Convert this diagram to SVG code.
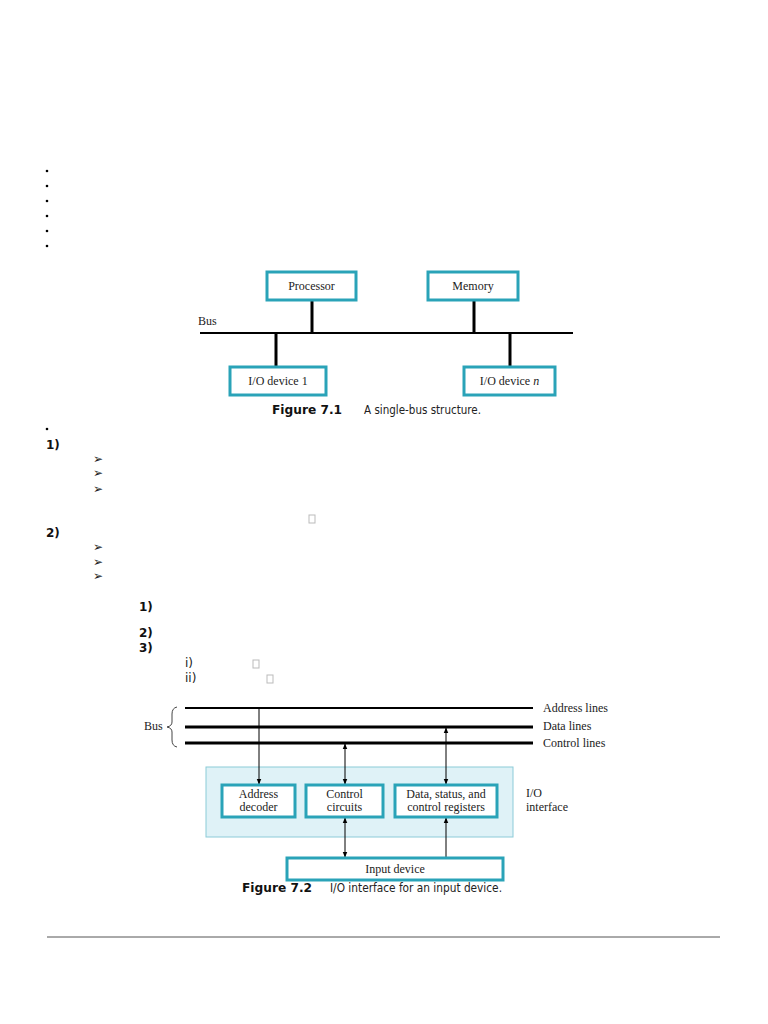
<svg xmlns="http://www.w3.org/2000/svg" width="768" height="1024" viewBox="0 0 768 1024">
<defs>
<style>
.s{font-family:"Liberation Serif",serif;font-size:12px;fill:#222}
.c{font-family:"DejaVu Sans",sans-serif;font-size:12px;fill:#222}
.b{font-family:"DejaVu Sans",sans-serif;font-size:12px;font-weight:bold;fill:#111}
.v{font-family:"DejaVu Sans",sans-serif;font-size:12px;fill:#222}
.box{fill:#fff;stroke:#2aa3b8;stroke-width:3}
.thick{stroke:#000;stroke-width:3}
.thin{stroke:#000;stroke-width:1}
.g{fill:none;stroke:#bbb;stroke-width:1}
</style>
<marker id="a" viewBox="0 0 10 10" refX="9" refY="5" markerWidth="6" markerHeight="7" orient="auto-start-reverse"><path d="M0,1 L10,5 L0,9 z" fill="#000"/></marker>
</defs>
<rect width="768" height="1024" fill="#fff"/>
<g fill="#000">
<circle cx="47" cy="171" r="1.3"/><circle cx="47" cy="186" r="1.3"/><circle cx="47" cy="201" r="1.3"/><circle cx="47" cy="216" r="1.3"/><circle cx="47" cy="231" r="1.3"/><circle cx="47" cy="246" r="1.3"/><circle cx="47" cy="429" r="1.3"/>
</g>
<text class="b" x="46" y="449">1)</text>
<text class="b" x="46" y="537">2)</text>
<text class="v" x="93" y="463">➢</text><text class="v" x="93" y="477">➢</text><text class="v" x="93" y="493">➢</text>
<text class="v" x="93" y="551">➢</text><text class="v" x="93" y="566">➢</text><text class="v" x="93" y="580">➢</text>
<text class="b" x="139" y="611">1)</text>
<text class="b" x="139" y="637">2)</text>
<text class="b" x="139" y="652">3)</text>
<text class="c" x="185" y="667">i)</text>
<text class="c" x="185" y="682">ii)</text>
<rect class="g" x="309" y="515" width="6" height="8"/>
<rect class="g" x="253" y="660" width="6" height="8"/>
<rect class="g" x="267" y="675" width="6" height="8"/>

<g id="connectors1">
<line class="thin" x1="200" y1="333" x2="573" y2="333" style="stroke-width:2"/>
<line class="thick" x1="312" y1="300" x2="312" y2="333"/>
<line class="thick" x1="474" y1="300" x2="474" y2="333"/>
<line class="thick" x1="276" y1="333" x2="276" y2="367"/>
<line class="thick" x1="510" y1="333" x2="510" y2="367"/>
</g>
<text class="s" x="198" y="325">Bus</text>
<g id="processor"><rect class="box" x="267" y="272" width="89" height="28"/><text class="s" x="311.5" y="290" text-anchor="middle">Processor</text></g>
<g id="memory"><rect class="box" x="428" y="272" width="90" height="28"/><text class="s" x="473" y="290" text-anchor="middle">Memory</text></g>
<g id="io1"><rect class="box" x="230" y="367" width="96" height="28"/><text class="s" x="278" y="385" text-anchor="middle">I/O device 1</text></g>
<g id="ion"><rect class="box" x="464" y="367" width="91" height="28"/><text class="s" x="509.5" y="385" text-anchor="middle">I/O device <tspan font-style="italic">n</tspan></text></g>
<text class="b" x="272" y="414" textLength="70" lengthAdjust="spacingAndGlyphs">Figure 7.1</text>
<text class="c" x="364" y="414" font-size="11" textLength="117" lengthAdjust="spacingAndGlyphs">A single-bus structure.</text>

<g id="iface"><rect x="206" y="767" width="307" height="70" fill="#dff2f7" stroke="#8ccbd8"/></g>
<g id="connectors2">
<line class="thin" x1="185" y1="708" x2="533" y2="708" style="stroke-width:2"/>
<line class="thick" x1="185" y1="727" x2="533" y2="727"/>
<line class="thick" x1="185" y1="743" x2="533" y2="743"/>
<line class="thin" x1="259" y1="708" x2="259" y2="784" marker-end="url(#a)"/>
<line class="thin" x1="345" y1="744" x2="345" y2="784" marker-start="url(#a)" marker-end="url(#a)"/>
<line class="thin" x1="446" y1="728" x2="446" y2="784" marker-start="url(#a)" marker-end="url(#a)"/>
<line class="thin" x1="345" y1="818" x2="345" y2="857" marker-start="url(#a)" marker-end="url(#a)"/>
<line class="thin" x1="446" y1="857" x2="446" y2="818" marker-end="url(#a)"/>
<path d="M177,707 Q172,708 172,714 L172,722 Q172,726 167,727 Q172,728 172,732 L172,740 Q172,746 177,747" fill="none" stroke="#444"/>
</g>
<text class="s" x="144" y="730">Bus</text>
<text class="s" x="543" y="712">Address lines</text>
<text class="s" x="543" y="730">Data lines</text>
<text class="s" x="543" y="747">Control lines</text>
<text class="s" x="526" y="797">I/O</text>
<text class="s" x="526" y="811">interface</text>
<g id="addr"><rect class="box" x="222" y="785" width="73" height="32"/><text class="s" x="258.5" y="798" text-anchor="middle">Address</text><text class="s" x="258.5" y="811" text-anchor="middle">decoder</text></g>
<g id="ctrl"><rect class="box" x="306" y="785" width="77" height="32"/><text class="s" x="344.5" y="798" text-anchor="middle">Control</text><text class="s" x="344.5" y="811" text-anchor="middle">circuits</text></g>
<g id="data"><rect class="box" x="395" y="785" width="102" height="32"/><text class="s" x="446" y="798" text-anchor="middle">Data, status, and</text><text class="s" x="446" y="811" text-anchor="middle">control registers</text></g>
<g id="input"><rect class="box" x="287" y="858" width="216" height="22"/><text class="s" x="395" y="873" text-anchor="middle">Input device</text></g>
<text class="b" x="242" y="892" textLength="70" lengthAdjust="spacingAndGlyphs">Figure 7.2</text>
<text class="c" x="330" y="892" font-size="11" textLength="172" lengthAdjust="spacingAndGlyphs">I/O interface for an input device.</text>
<line x1="47" y1="937" x2="720" y2="937" stroke="#555" stroke-width="1"/>
</svg>
